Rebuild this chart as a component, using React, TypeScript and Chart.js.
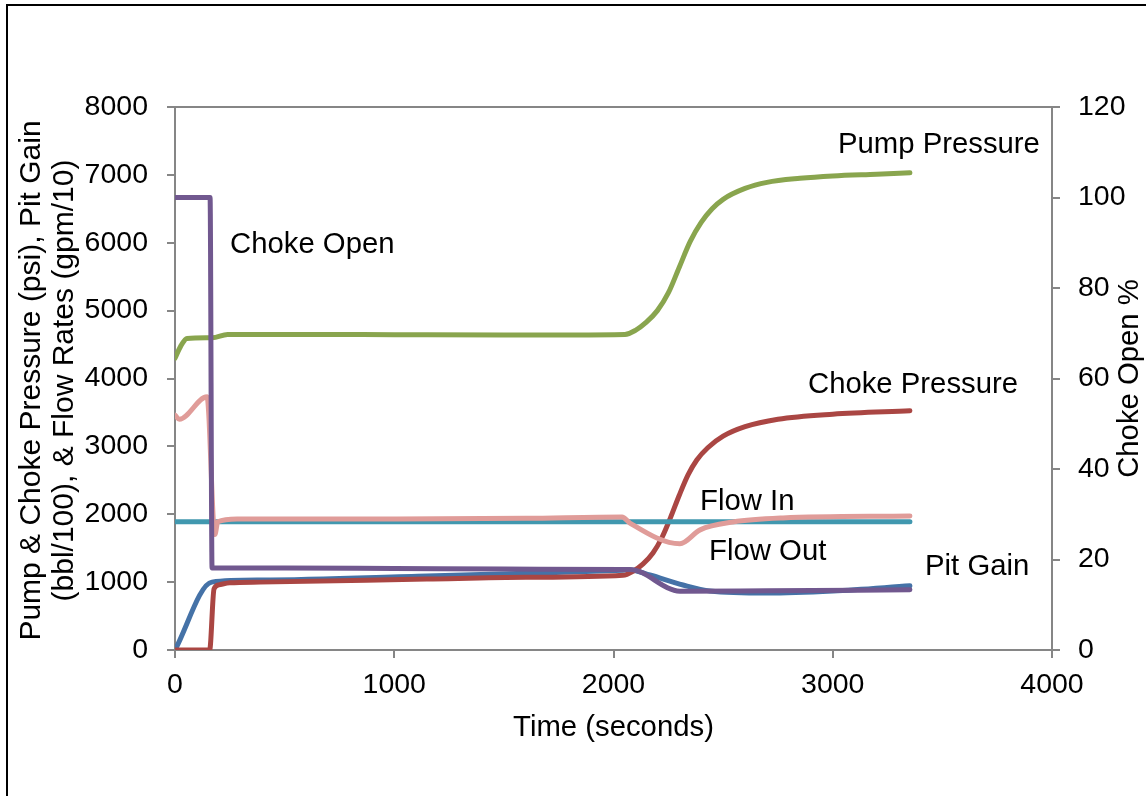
import React, { useEffect, useRef } from "react";
import { Chart, registerables } from "chart.js";

Chart.register(...registerables);

const FONT = '"Liberation Sans", Arial, Helvetica, sans-serif';
const AXIS_COLOR = "#868686";
const TEXT_SIZE = 29.3;
const TICK_SIZE = 28.5;
const YTITLE_SIZE = 30;

// Axis settings
const xMin = 0, xMax = 4000, xStep = 1000;
const yMin = 0, yMax = 8000, yStep = 1000;
const y2Min = 0, y2Max = 120, y2Step = 20;

// Pump Pressure (psi)
const pumpT = [0, 25, 55, 170, 240, 600, 1000, 1500, 2052, 2100, 2150, 2200, 2250, 2300, 2350, 2400, 2450, 2500, 2600, 2700, 2850, 3000, 3200, 3352];
const pumpV = [4300, 4470, 4590, 4600, 4650, 4650, 4645, 4640, 4650, 4710, 4830, 5000, 5260, 5640, 6020, 6300, 6500, 6640, 6800, 6890, 6950, 6985, 7010, 7030];

// Choke Pressure (psi)
const chokeT = [0, 158, 178, 200, 250, 388, 1149, 1600, 2043, 2089, 2135, 2180, 2220, 2260, 2300, 2340, 2380, 2430, 2500, 2600, 2750, 3000, 3352];
const chokeV = [0, 0, 900, 960, 990, 1000, 1045, 1070, 1100, 1160, 1270, 1430, 1650, 1950, 2280, 2580, 2800, 2980, 3150, 3290, 3400, 3475, 3525];

// Pit Gain (bbl/100)
const pitT = [0, 168, 388, 1149, 1600, 2043, 2075, 2166, 2317, 2440, 2700, 3001, 3352];
const pitV = [0, 1000, 1030, 1090, 1130, 1175, 1180, 1105, 958, 870, 840, 870, 945];

// Flow In (gpm/10)
const flowInT = [0, 3352];
const flowInV = [1890, 1890];

// Flow Out (gpm/10)
const flowOutT = [0, 20, 146, 182, 195, 283, 1000, 1600, 2039, 2075, 2303, 2395, 2545, 2773, 3352];
const flowOutV = [3460, 3400, 3730, 1700, 1890, 1930, 1930, 1940, 1960, 1870, 1565, 1770, 1885, 1945, 1975];

// Choke Open (%)
const chokeOpenT = [0, 160, 169, 500, 1000, 1500, 2043, 2075, 2303, 2700, 3352];
const chokeOpenV = [100, 100, 18.1, 18.1, 18.0, 17.9, 17.8, 17.8, 13.0, 13.1, 13.3];

// In-plot labels: text, time, left-axis value
const labelTexts = ["Pump Pressure", "Choke Open", "Choke Pressure", "Flow In", "Flow Out", "Pit Gain"];
const labelT = [3024, 251, 2887, 2395, 2436, 3421];
const labelV = [7440, 5967, 3904, 2180, 1444, 1223];

const yTitle = ["Pump & Choke Pressure (psi), Pit Gain", "(bbl/100), & Flow Rates (gpm/10)"];
const y2Title = "Choke Open %";
const xTitle = "Time (seconds)";

const zip = (t: number[], v: number[]) => t.map((x, i) => ({ x, y: v[i] }));

const overlayPlugin = {
  id: "overlay",
  afterDraw(chart: any) {
    const { ctx, chartArea, scales } = chart;
    ctx.save();
    // top frame line
    ctx.strokeStyle = AXIS_COLOR;
    ctx.lineWidth = 2;
    ctx.beginPath();
    ctx.moveTo(chartArea.left, chartArea.top);
    ctx.lineTo(chartArea.right, chartArea.top);
    ctx.stroke();
    // labels
    ctx.fillStyle = "#000";
    ctx.font = `${TEXT_SIZE}px ${FONT}`;
    ctx.textAlign = "left";
    ctx.textBaseline = "middle";
    labelTexts.forEach((txt, i) => {
      const x = scales.x.getPixelForValue(labelT[i]);
      const y = scales.y.getPixelForValue(labelV[i]);
      ctx.fillText(txt, x, y);
    });
    const cy = (chartArea.top + chartArea.bottom) / 2;
    // left axis title (two lines, reading upwards)
    ctx.save();
    ctx.font = `${YTITLE_SIZE}px ${FONT}`;
    ctx.translate(scales.y.left + 32, cy + 2);
    ctx.rotate(-Math.PI / 2);
    ctx.textAlign = "center";
    ctx.fillText(yTitle[0], 0, 0);
    ctx.fillText(yTitle[1], 0, 33);
    ctx.restore();
    // right axis title, reading upwards
    ctx.translate(scales.y2.right - 16, cy);
    ctx.rotate(-Math.PI / 2);
    ctx.textAlign = "center";
    ctx.fillText(y2Title, 0, 0);
    ctx.restore();
  },
};

export default function App() {
  const ref = useRef<HTMLCanvasElement | null>(null);
  useEffect(() => {
    if (!ref.current) return;
    const tickFont = { family: FONT, size: TICK_SIZE };
    const plain = (v: any) => String(v);
    const mk = (label: string, data: any[], color: string, axis: string, order: number) => ({
      label,
      data,
      borderColor: color,
      backgroundColor: color,
      yAxisID: axis,
      showLine: true,
      fill: false,
      pointRadius: 0,
      borderWidth: 5,
      borderCapStyle: "round",
      borderJoinStyle: "round",
      cubicInterpolationMode: "monotone",
      order,
    });
    const chart = new Chart(ref.current, {
      type: "scatter",
      data: {
        datasets: [
          mk("Choke Open", zip(chokeOpenT, chokeOpenV), "#71588F", "y2", 0),
          mk("Flow Out", zip(flowOutT, flowOutV), "#E09C99", "y", 1),
          mk("Flow In", zip(flowInT, flowInV), "#4198AF", "y", 2),
          mk("Choke Pressure", zip(chokeT, chokeV), "#AA4643", "y", 3),
          mk("Pit Gain", zip(pitT, pitV), "#4572A7", "y", 4),
          mk("Pump Pressure", zip(pumpT, pumpV), "#89A54E", "y", 5),
        ] as any,
      },
      options: {
        responsive: false,
        animation: false,
        layout: { padding: { top: 107, left: 0, right: 0, bottom: 0 } },
        plugins: { legend: { display: false }, tooltip: { enabled: false } },
        scales: {
          x: {
            type: "linear",
            position: "bottom",
            min: xMin,
            max: xMax,
            ticks: { stepSize: xStep, color: "#000", font: tickFont, padding: 10, callback: plain },
            grid: { drawOnChartArea: false, color: AXIS_COLOR, lineWidth: 2, tickLength: 8 },
            border: { color: AXIS_COLOR, width: 2 },
            title: { display: true, text: xTitle, color: "#000", font: { family: FONT, size: TEXT_SIZE }, padding: { top: 0, bottom: 51 } },
            afterFit: (s: any) => { s.height = 146; },
          },
          y: {
            type: "linear",
            position: "left",
            min: yMin,
            max: yMax,
            ticks: { stepSize: yStep, color: "#000", font: tickFont, padding: 19, callback: plain },
            grid: { drawOnChartArea: false, color: AXIS_COLOR, lineWidth: 2, tickLength: 8 },
            border: { color: AXIS_COLOR, width: 2 },
            afterFit: (s: any) => { s.width = 175; },
          },
          y2: {
            type: "linear",
            position: "right",
            min: y2Min,
            max: y2Max,
            ticks: { stepSize: y2Step, color: "#000", font: tickFont, padding: 18, callback: plain },
            grid: { drawOnChartArea: false, color: AXIS_COLOR, lineWidth: 2, tickLength: 8 },
            border: { color: AXIS_COLOR, width: 2 },
            afterFit: (s: any) => { s.width = 94; },
          },
        },
      } as any,
      plugins: [overlayPlugin],
    });
    return () => chart.destroy();
  }, []);

  return (
    <div style={{ position: "absolute", left: 0, top: 0, width: 1146, height: 796, overflow: "hidden", background: "#fff" }}>
      <canvas ref={ref} width={1146} height={796} style={{ position: "absolute", left: 0, top: 0, display: "block" }} />
      <div style={{ position: "absolute", left: 6, top: 4, width: 1200, height: 900, border: "2px solid #000", boxSizing: "border-box", pointerEvents: "none" }} />
    </div>
  );
}
